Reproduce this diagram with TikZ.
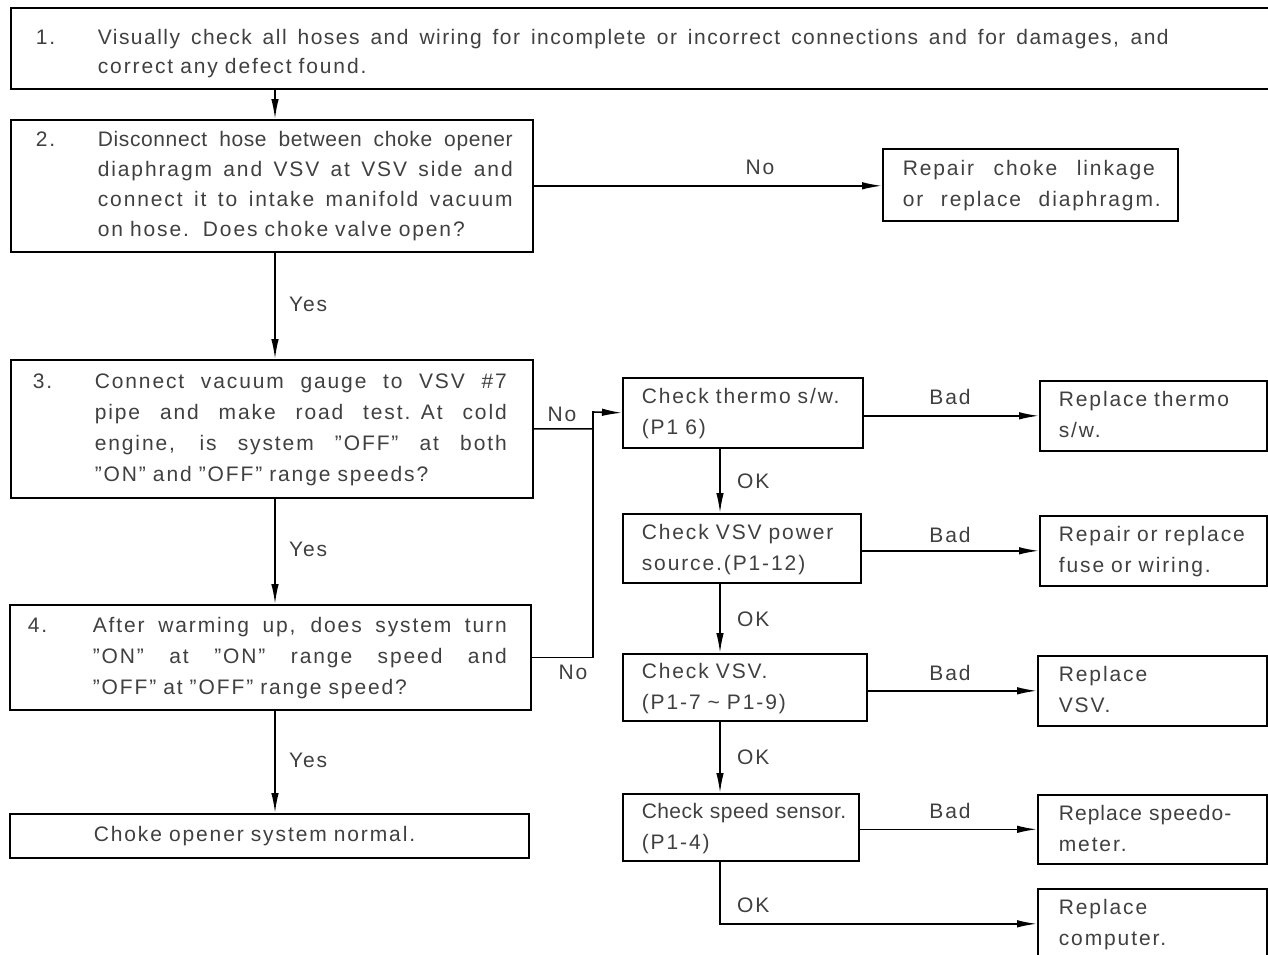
\documentclass[tikz,border=0pt]{standalone}
\usepackage{fontspec}
\setmainfont{Liberation Sans}[LetterSpace=9]
\usetikzlibrary{arrows.meta}

% one justified line of a given width: word spaces share the spare room
\newcommand\jline[2]{\makebox[#1][s]{\spaceskip=\fontdimen2\font plus 1fil\relax #2}}
% stacked lines that never wrap
\newcommand\lines[1]{\begin{tabular}[t]{@{}l@{}}#1\end{tabular}}
% numbered step: left offset, number column width, number, lines
\newcommand\steptext[4]{\hspace*{#1}\makebox[#2][l]{#3}\lines{#4}}
% tighter tracking for a long line
\newcommand\tight[2]{{\addfontfeature{LetterSpace=#1}#2}}
% a box given by its corners and left padding
\newcommand\flowbox[8][]{%
  \pgfmathsetmacro\fbw{#5-#3}%
  \pgfmathsetmacro\fbh{#6-#4}%
  \pgfmathsetmacro\fbt{#5-#3-2*#7}%
  \node[box,#1,minimum width=\fbw pt,minimum height=\fbh pt,
        text width=\fbt pt,inner xsep=#7 pt] (#2) at (#3,#4) {#8};}

\tikzset{
  box/.style={draw=black,line width=1.6pt,anchor=north west,inner ysep=0pt,
              align=left,text=black!75,font=\fontsize{21}{31}\selectfont},
  lbl/.style={inner sep=0pt,text=black!75,font=\fontsize{21}{31}\selectfont},
  conn/.style={draw=black,line width=1.6pt},
  arr/.style={conn,-{Latex[length=20pt,width=7.5pt]}},
}

\begin{document}
\begin{tikzpicture}[x=1pt,y=-1pt]
\useasboundingbox[fill=white] (0,0) rectangle (1268,954);

% main column
\flowbox[font=\fontsize{21}{29}\selectfont]{b1}{10}{7}{1300}{88}{15}{%
  \steptext{10pt}{62pt}{\rule{0pt}{31pt}1.}{\jline{1071pt}{\addfontfeature{LetterSpace=7}Visually check all hoses and wiring for incomplete or incorrect connections and for damages, and}\\
  correct any defect found.}}
\flowbox[font=\fontsize{21}{30}\selectfont]{b2}{10}{119}{532}{251}{15}{%
  \steptext{10pt}{62pt}{2.}{\jline{415pt}{\addfontfeature{LetterSpace=3}Disconnect hose between choke opener}\\
  \jline{415pt}{diaphragm and VSV at VSV side and}\\
  \jline{415pt}{connect it to intake manifold vacuum}\\
  on hose.\ \ Does choke valve open?}}
\flowbox{b3}{10}{359}{532}{497}{15}{%
  \steptext{7pt}{62pt}{3.}{\jline{412pt}{Connect vacuum gauge to VSV \#7}\\
  \jline{412pt}{pipe and make road test. At cold}\\
  \jline{412pt}{engine, is system "OFF" at both}\\
  "ON" and "OFF" range speeds?}}
\flowbox{b4}{9}{604}{530}{709}{15}{%
  \steptext{3pt}{65pt}{4.}{\jline{414pt}{After warming up, does system turn}\\
  \jline{414pt}{"ON" at "ON" range speed and}\\
  "OFF" at "OFF" range speed?}}
\flowbox{b5}{9}{813}{528}{857}{15}{\hspace*{69pt}Choke opener system normal.}

\flowbox{rep1}{882}{148}{1177}{220}{20}{%
  \lines{\jline{252pt}{Repair choke linkage}\\ \jline{258pt}{or replace diaphragm.}}}

% checks
\flowbox{thermo}{622}{377}{862}{447}{19}{\lines{Check thermo s/w.\\(P1 6)}}
\flowbox{power}{622}{513}{860}{582}{19}{\lines{Check VSV power\\source.(P1-12)}}
\flowbox{vsv}{622}{653}{866}{720}{19}{\lines{Check VSV.\\(P1-7 \textasciitilde\ P1-9)}}
\flowbox{speed}{622}{793}{858}{860}{19}{\lines{\tight{2}{Check speed sensor.}\\(P1-4)}}

% remedies
\flowbox{rthermo}{1039}{380}{1266}{450}{19}{\lines{Replace thermo\\s/w.}}
\flowbox{rfuse}{1039}{515}{1266}{585}{19}{\lines{Repair or replace\\fuse or wiring.}}
\flowbox{rvsv}{1037}{655}{1266}{725}{21}{\lines{Replace\\VSV.}}
\flowbox{rspeedo}{1037}{794}{1266}{863}{21}{\lines{\tight{5}{Replace speedo-}\\meter.}}
\flowbox{rcomp}{1037}{888}{1266}{958}{21}{\lines{Replace\\computer.}}

% routing points
\coordinate (spine) at (275,0);
\coordinate (rc) at (720,0);
\coordinate (jn) at (593,412);

% main column connectors
\draw[arr] (b1.south -| spine) -- (b2.north -| spine);
\draw[arr] (b2.east) -- (b2.east -| rep1.west);
\draw[arr] (b2.south -| spine) -- (b3.north -| spine);
\draw[arr] (b3.south -| spine) -- (b4.north -| spine);
\draw[arr] (b4.south -| spine) -- (b5.north -| spine);

% failures lead to the checks
\draw[arr] (b3.east) -- (b3.east -| jn) -- (jn) -- (thermo.west);
\draw[conn] (b4.east) -| (jn);

% check chain
\draw[arr] (thermo.south -| rc) -- (power.north -| rc);
\draw[arr] (power.south -| rc) -- (vsv.north -| rc);
\draw[arr] (vsv.south -| rc) -- (speed.north -| rc);
\draw[arr] (speed.south -| rc) |- (rcomp.west);

% bad results
\draw[arr] (thermo.east |- rthermo.west) -- (rthermo.west);
\draw[arr] (power.east |- rfuse.west) -- (rfuse.west);
\draw[arr] (vsv.east |- rvsv.west) -- (rvsv.west);
\draw[arr] (speed.east |- rspeedo.west) -- (rspeedo.west);

% labels
\node[lbl] (no1) at (760,167) {No};
\node[lbl,anchor=west] (yes1) at (289,304) {Yes};
\node[lbl,anchor=west] (yes2) at (289,549) {Yes};
\node[lbl,anchor=west] (yes3) at (289,760) {Yes};
\node[lbl] (no2) at (562,414) {No};
\node[lbl] (no3) at (573,672) {No};
\node[lbl,anchor=west] (ok1) at (737,481) {OK};
\node[lbl,anchor=west] (ok2) at (737,619) {OK};
\node[lbl,anchor=west] (ok3) at (737,757) {OK};
\node[lbl,anchor=west] (ok4) at (737,905) {OK};
\node[lbl] (bad1) at (950,397) {Bad};
\node[lbl] (bad2) at (950,535) {Bad};
\node[lbl] (bad3) at (950,673) {Bad};
\node[lbl] (bad4) at (950,811) {Bad};
\end{tikzpicture}
\end{document}
